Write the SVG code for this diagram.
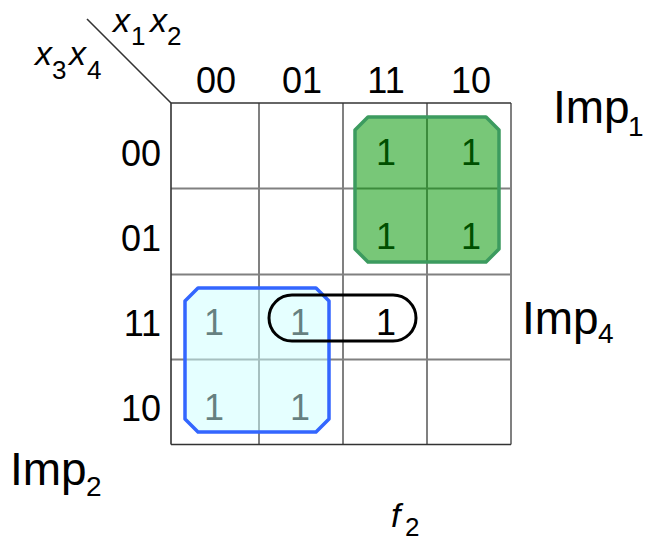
<svg xmlns="http://www.w3.org/2000/svg" width="647" height="541" viewBox="0 0 647 541">
<style>
text{font-family:"Liberation Sans",Arial,sans-serif;fill:#000}
.lbl{font-size:36px}
.one{font-size:36px;text-anchor:middle}
.big{font-size:46px}
.sub{font-size:28px}
.it{font-style:italic;font-size:34px}
.its{font-size:26px}
.g{stroke:#808080;stroke-width:2;fill:none}
.d{stroke:#333;stroke-width:1.6;fill:none}
</style>
<rect width="647" height="541" fill="#fff"/>
<g id="grid">
<line class="g" x1="259" y1="103" x2="259" y2="444.5"/>
<line class="g" x1="343" y1="103" x2="343" y2="444.5"/>
<line class="g" x1="427" y1="103" x2="427" y2="444.5"/>
<line class="g" x1="511" y1="103" x2="511" y2="444.5"/>
<line class="g" x1="171" y1="188.5" x2="511" y2="188.5"/>
<line class="g" x1="171" y1="274.5" x2="511" y2="274.5"/>
<line class="g" x1="171" y1="359.5" x2="511" y2="359.5"/>
<line class="d" x1="171" y1="103" x2="511" y2="103"/>
<line class="d" x1="171" y1="444.5" x2="511" y2="444.5"/>
<line class="d" x1="171" y1="103" x2="171" y2="444.5"/>
<line class="d" x1="87" y1="19" x2="171" y2="103" stroke-width="1.2"/>
</g>
<g id="headers">
<text class="it" x="113" y="32">x</text><text class="its" x="131" y="45">1</text>
<text class="it" x="150" y="32">x</text><text class="its" x="167" y="45">2</text>
<text class="it" x="35" y="65">x</text><text class="its" x="52" y="79">3</text>
<text class="it" x="69" y="65">x</text><text class="its" x="87" y="79">4</text>
<text class="one" x="216" y="93">00</text>
<text class="one" x="302" y="93">01</text>
<text class="one" x="386" y="93">11</text>
<text class="one" x="471" y="93">10</text>
<text class="lbl" x="161" y="166" text-anchor="end">00</text>
<text class="lbl" x="161" y="251" text-anchor="end">01</text>
<text class="lbl" x="161" y="336" text-anchor="end">11</text>
<text class="lbl" x="161" y="421" text-anchor="end">10</text>
</g>
<g id="ones">
<text class="one" x="386" y="165">1</text>
<text class="one" x="471" y="165">1</text>
<text class="one" x="386" y="249">1</text>
<text class="one" x="471" y="249">1</text>
<text class="one" x="214" y="335">1</text>
<text class="one" x="300" y="335">1</text>
<text class="one" x="386" y="335">1</text>
<text class="one" x="214" y="420">1</text>
<text class="one" x="300" y="420">1</text>
</g>
<g id="imp1">
<path d="M368,117 L486,117 L499,130 L499,249 L486,262 L368,262 L355,249 L355,130 Z" fill="#009600" fill-opacity="0.53" stroke="#3c9b5f" stroke-width="3.5" stroke-linejoin="round"/>
<text class="big" x="553" y="123">Imp</text><text class="sub" x="628" y="136">1</text>
</g>
<g id="imp2">
<path d="M198,288 L316,288 L329,301 L329,419 L316,432 L198,432 L185,419 L185,301 Z" fill="#ccffff" fill-opacity="0.5" stroke="#3366ff" stroke-width="3.5" stroke-linejoin="round"/>
<text class="big" x="10" y="485">Imp</text><text class="sub" x="86" y="496">2</text>
</g>
<g id="imp4">
<rect x="269" y="295" width="147" height="46" rx="23" fill="none" stroke="#000" stroke-width="3"/>
<text class="big" x="522" y="334">Imp</text><text class="sub" x="598" y="343">4</text>
</g>
<g id="title">
<text class="it" x="391" y="527">f</text><text class="its" x="405" y="536">2</text>
</g>
</svg>
